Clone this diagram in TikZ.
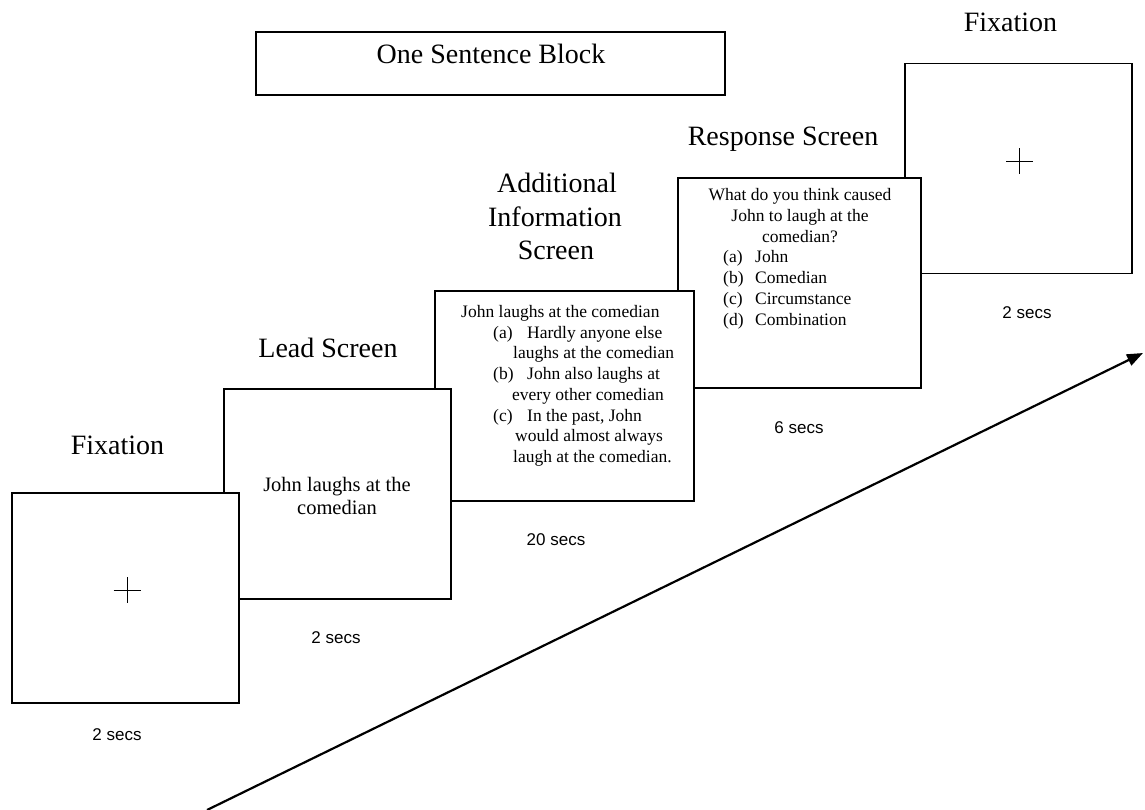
\documentclass[tikz,border=0pt]{standalone}
\usepackage{fontspec}
\setmainfont{Liberation Serif}
\newfontfamily\secsfont{Liberation Sans}
\usetikzlibrary{arrows.meta, positioning}

\begin{document}
\begin{tikzpicture}[x=1bp, y=-1bp,
    screenbox/.style={draw, fill=white, line width=1.5bp, inner sep=0pt, outer sep=0pt, minimum height=210bp},
    heading/.style={anchor=base, inner sep=0pt, font=\fontsize{28bp}{32bp}\selectfont},
    body/.style={anchor=base west, inner sep=0pt, font=\fontsize{17.5bp}{20.8bp}\selectfont},
    secs/.style={anchor=base, inner sep=0pt, font=\secsfont\fontsize{17bp}{20bp}\selectfont}]
    \useasboundingbox (0,0) rectangle (1145,810);

    % block title
    \node[draw, line width=1.5bp, minimum width=469bp, minimum height=63bp, inner sep=0pt] (block) at (490.5,63.5) {};
    \node[heading] (blocktxt) at (491,64) {One Sentence Block};

    % screens, last one first so the earlier ones lie on top
    \node[screenbox, minimum width=227bp] (fixB) at (1018.5,168.5) {};
    \draw[line width=1bp] (1006,161) -- (1033,161) (1019.5,148) -- (1019.5,174);
    \node[heading] (fixBtitle) at (1010.5,32) {Fixation};
    \node[secs] (fixBtime) at (1027,318) {2 secs};

    \node[screenbox, minimum width=243bp] (resp) at (799.5,283) {};
    \node[heading] (resptitle) at (783,145) {Response Screen};
    \node[body, anchor=base] (rq1) at (800,200) {What do you think caused};
    \node[body, anchor=base] (rq2) at (800,221) {John to laugh at the};
    \node[body, anchor=base] (rq3) at (800,242) {comedian?};
    \foreach \lbl/\opt [count=\i] in {a/John, b/Comedian, c/Circumstance, d/Combination} {
        \node[body] (rl\i) at (723,{242+20.8*\i}) {(\lbl)};
        \node[body] (ro\i) at (755,{242+20.8*\i}) {\opt};
    }
    \node[secs] (resptime) at (799,433) {6 secs};

    \node[screenbox, minimum width=259bp] (addinfo) at (564.5,396) {};
    \node[heading] (addtitle1) at (557,192) {Additional};
    \node[heading] (addtitle2) at (555,226) {Information};
    \node[heading] (addtitle3) at (556,259) {Screen};
    \node[body] (ai0) at (461,317) {John laughs at the comedian};
    \node[body] (ai1) at (493,338) {(a)};
    \node[body] (ai1t) at (527,338) {Hardly anyone else};
    \node[body] (ai2) at (513,358) {laughs at the comedian};
    \node[body] (ai3) at (493,379) {(b)};
    \node[body] (ai3t) at (527,379) {John also laughs at};
    \node[body] (ai4) at (512,400) {every other comedian};
    \node[body] (ai5) at (493,421) {(c)};
    \node[body] (ai5t) at (527,421) {In the past, John};
    \node[body] (ai6) at (515,441) {would almost always};
    \node[body] (ai7) at (513,462) {laugh at the comedian.};
    \node[secs] (addtime) at (556,545) {20 secs};

    \node[screenbox, minimum width=227bp] (lead) at (337.5,494) {};
    \node[heading] (leadtitle) at (328,357) {Lead Screen};
    \node[body, anchor=base, font=\fontsize{20.5bp}{23bp}\selectfont] (leadA) at (337,491) {John laughs at the};
    \node[body, anchor=base, font=\fontsize{20.5bp}{23bp}\selectfont] (leadB) at (337,514) {comedian};
    \node[secs] (leadtime) at (336,643) {2 secs};

    \node[screenbox, minimum width=227bp] (fixA) at (125.5,598) {};
    \draw[line width=1bp] (113.5,590) -- (140.5,590) (127,577) -- (127,603);
    \node[heading] (fixAtitle) at (117.5,454) {Fixation};
    \node[secs] (fixAtime) at (117,740) {2 secs};

    % time line
    \coordinate (tstart) at (207,810);
    \coordinate (tend) at (1143,353);
    \draw[line width=2.2bp, -{Triangle[length=16bp, width=12bp]}] (tstart) -- (tend);
\end{tikzpicture}
\end{document}
